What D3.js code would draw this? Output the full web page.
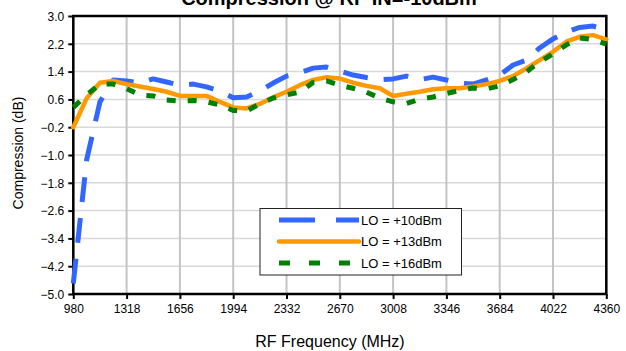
<!DOCTYPE html>
<html>
<head>
<meta charset="utf-8">
<script src="https://cdn.jsdelivr.net/npm/d3@7"></script>
<style>
  html, body { margin: 0; padding: 0; background: #fff; }
  svg { display: block; font-family: "Liberation Sans", Arial, sans-serif; }
</style>
</head>
<body>
<svg id="chart" width="626" height="351"></svg>
<script>
// ---- data ----
const freqs = [980, 1064.5, 1149, 1233.5, 1318, 1402.5, 1487, 1571.5, 1656, 1740.5,
  1825, 1909.5, 1994, 2078.5, 2163, 2247.5, 2332, 2416.5, 2501, 2585.5,
  2670, 2754.5, 2839, 2923.5, 3008, 3092.5, 3177, 3261.5, 3346, 3430.5,
  3515, 3599.5, 3684, 3768.5, 3853, 3937.5, 4022, 4106.5, 4191, 4275.5, 4360];

const lo10 = [-4.70, -1.14, 0.53, 1.16, 1.13, 1.07, 1.19, 1.10, 1.01, 1.04,
  0.96, 0.84, 0.65, 0.67, 0.84, 1.07, 1.27, 1.37, 1.50, 1.53,
  1.42, 1.30, 1.23, 1.17, 1.19, 1.27, 1.17, 1.24, 1.16, 1.07,
  1.04, 1.16, 1.30, 1.59, 1.73, 2.08, 2.34, 2.54, 2.67, 2.71, 2.60];

const lo13 = [-0.20, 0.63, 1.08, 1.13, 1.04, 0.97, 0.90, 0.82, 0.70, 0.70,
  0.70, 0.53, 0.37, 0.34, 0.47, 0.66, 0.82, 1.01, 1.16, 1.24,
  1.20, 1.08, 0.99, 0.92, 0.70, 0.76, 0.82, 0.89, 0.92, 0.92,
  0.97, 1.04, 1.13, 1.27, 1.49, 1.73, 1.97, 2.26, 2.40, 2.45, 2.33];

const lo16 = [0.37, 0.73, 1.04, 1.04, 0.91, 0.73, 0.70, 0.58, 0.55, 0.57,
  0.53, 0.44, 0.28, 0.27, 0.47, 0.64, 0.73, 0.81, 1.09, 1.13,
  1.01, 0.92, 0.81, 0.64, 0.53, 0.48, 0.61, 0.67, 0.77, 0.86,
  0.93, 0.90, 0.99, 1.17, 1.39, 1.68, 1.91, 2.17, 2.37, 2.32, 2.19];

const xTicks = [980, 1318, 1656, 1994, 2332, 2670, 3008, 3346, 3684, 4022, 4360];
const yTicks = [3.0, 2.2, 1.4, 0.6, -0.2, -1.0, -1.8, -2.6, -3.4, -4.2, -5.0];

const seriesNames = ["LO = +10dBm", "LO = +13dBm", "LO = +16dBm"];
const seriesData = [lo10, lo13, lo16];

const titleText = "Compression @ RF IN=-10dBm";
const xTitle = "RF Frequency (MHz)";
const yTitle = "Compression (dB)";

// ---- styles ----
const styles = [
  { color: "#3366FF", width: 5, dash: "25,16", legendDash: "36,21", cap: "butt" },
  { color: "#FF9900", width: 4.5, dash: null, legendDash: null, cap: "round" },
  { color: "#008000", width: 5, dash: "9,12", legendDash: "11,19", cap: "butt" }
];

// ---- layout ----
const L = 73.3, R = 606.3, T = 16, B = 294;
const svg = d3.select("#chart");

const x = d3.scaleLinear().domain([980, 4360]).range([L, R]);
const y = d3.scaleLinear().domain([-5.0, 3.0]).range([B, T]);

// grid
svg.append("g").selectAll("line").data(yTicks).join("line")
  .attr("x1", L).attr("x2", R)
  .attr("y1", d => y(d)).attr("y2", d => y(d))
  .attr("stroke", "#d9d9d9").attr("stroke-width", 1.5);
svg.append("g").selectAll("line").data(xTicks).join("line")
  .attr("x1", d => x(d)).attr("x2", d => x(d))
  .attr("y1", T).attr("y2", B)
  .attr("stroke", "#c4c4c4").attr("stroke-width", 2);

// axes
const xAxis = d3.axisBottom(x).tickValues(xTicks).tickSize(5).tickPadding(5)
  .tickFormat(d3.format("d"));
const yAxis = d3.axisLeft(y).tickValues(yTicks).tickSize(5).tickPadding(4)
  .tickFormat(d3.format(".1f"));

const gx = svg.append("g").attr("transform", `translate(0,${B})`).call(xAxis);
const gy = svg.append("g").attr("transform", `translate(${L},0)`).call(yAxis);
[gx, gy].forEach(g => {
  g.select(".domain").remove();
  g.selectAll(".tick line").attr("stroke", "#000").attr("stroke-width", 2);
  g.selectAll(".tick text").attr("fill", "#000").style("font-size", "12px")
    .style("font-family", "'Liberation Sans', Arial, sans-serif");
});
gy.selectAll(".tick text").attr("dy", "0.35em");

// plot border
svg.append("rect").attr("x", L).attr("y", T).attr("width", R - L).attr("height", B - T)
  .attr("fill", "none").attr("stroke", "#000").attr("stroke-width", 2.5);

// lines
const line = d3.line().x((d, i) => x(freqs[i])).y(d => y(d));
seriesData.forEach((vals, k) => {
  const s = styles[k];
  const p = svg.append("path").datum(vals)
    .attr("d", line)
    .attr("fill", "none")
    .attr("stroke", s.color)
    .attr("stroke-width", s.width)
    .attr("stroke-linejoin", "round")
    .attr("stroke-linecap", s.cap);
  if (s.dash) p.attr("stroke-dasharray", s.dash);
});

// legend
const lg = svg.append("g");
lg.append("rect").attr("x", 260).attr("y", 208.5).attr("width", 201.5).attr("height", 66.5)
  .attr("fill", "#fff").attr("stroke", "#222").attr("stroke-width", 1);
const rowsY = [220, 241.5, 263];
seriesNames.forEach((name, k) => {
  const s = styles[k];
  const ln = lg.append("line")
    .attr("x1", 279).attr("x2", 359)
    .attr("y1", rowsY[k]).attr("y2", rowsY[k])
    .attr("stroke", s.color).attr("stroke-width", s.width)
    .attr("stroke-linecap", s.cap);
  if (s.legendDash) ln.attr("stroke-dasharray", s.legendDash);
  lg.append("text").attr("x", 361).attr("y", rowsY[k]).attr("dy", "0.36em")
    .style("font-size", "13px").attr("fill", "#000").text(name);
});

// titles
svg.append("text").attr("x", 329).attr("y", 4.5).attr("text-anchor", "middle")
  .style("font-size", "20px").style("font-weight", "bold").attr("fill", "#000")
  .text(titleText);
svg.append("text").attr("x", 330).attr("y", 347).attr("text-anchor", "middle")
  .style("font-size", "16px").attr("fill", "#000").text(xTitle);
svg.append("text").attr("transform", "translate(23,153) rotate(-90)")
  .attr("text-anchor", "middle").style("font-size", "14px").attr("fill", "#000")
  .text(yTitle);
</script>
</body>
</html>
